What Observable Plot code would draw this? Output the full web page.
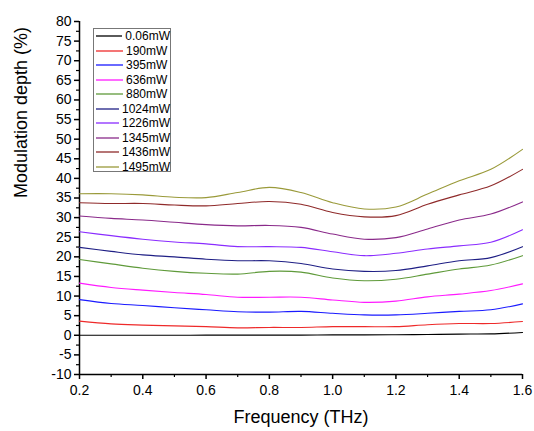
<!DOCTYPE html>
<html>
<head>
<meta charset="utf-8">
<script src="https://cdn.jsdelivr.net/npm/d3@7"></script>
<script src="https://cdn.jsdelivr.net/npm/@observablehq/plot@0.6"></script>
<style>
  html, body { margin: 0; padding: 0; background: #fff; }
  #wrap { position: relative; width: 534px; height: 431px; font-family: "Liberation Sans", Arial, sans-serif; }
  #legend { position: absolute; left: 93px; top: 28px; width: 78px; height: 144px; border: 1px solid #777; background: #fff; box-sizing: border-box; padding-top: 0px; }
  .row { display: flex; align-items: center; height: 14.5px; font-size: 12px; color: #000; }
  .row svg { margin-left: 2px; margin-right: 3px; }
</style>
</head>
<body>
<div id="wrap"></div>
<script>
const freqs = [0.2, 0.3, 0.4, 0.5, 0.6, 0.7, 0.8, 0.9, 1.0, 1.1, 1.2, 1.3, 1.4, 1.5, 1.6];
const seriesNames = ["0.06mW", "190mW", "395mW", "636mW", "880mW", "1024mW", "1226mW", "1345mW", "1436mW", "1495mW"];
const seriesColors = ["#000000", "#ee2a2a", "#1a1aff", "#ff1aff", "#5f9a3a", "#1f1f85", "#8a2cff", "#8a2a8a", "#8f2a2a", "#9a9a3a"];
const s006  = [0, 0, 0, 0, 0.05, 0.05, 0.05, 0.05, 0.1, 0.1, 0.15, 0.2, 0.3, 0.35, 0.7];
const s190  = [3.6, 2.9, 2.6, 2.4, 2.2, 1.9, 2.0, 2.0, 2.2, 2.2, 2.2, 2.7, 3.0, 3.0, 3.5];
const s395  = [9.1, 8.1, 7.6, 7.0, 6.5, 6.0, 5.9, 6.1, 5.6, 5.2, 5.2, 5.6, 6.1, 6.5, 8.0];
const s636  = [13.3, 12.2, 11.5, 10.9, 10.4, 9.7, 9.7, 9.7, 9.0, 8.4, 8.7, 9.8, 10.5, 11.4, 13.1];
const s880  = [19.3, 18.2, 17.1, 16.3, 15.8, 15.6, 16.3, 16.1, 14.6, 13.9, 14.3, 15.6, 16.9, 17.9, 20.3];
const s1024 = [22.4, 21.4, 20.5, 20.0, 19.4, 19.0, 19.0, 18.3, 16.9, 16.3, 16.5, 17.7, 19.0, 19.8, 22.6];
const s1226 = [26.4, 25.4, 24.5, 23.8, 23.3, 22.6, 22.6, 22.4, 21.3, 20.3, 20.9, 22.0, 22.8, 23.7, 26.9];
const s1345 = [30.4, 29.8, 29.4, 28.8, 28.2, 27.9, 28.0, 27.5, 25.8, 24.5, 24.9, 27.1, 29.4, 30.9, 34.0];
const s1436 = [33.8, 33.6, 33.6, 33.2, 33.0, 33.6, 34.1, 33.4, 31.3, 30.2, 30.5, 33.4, 35.8, 38.1, 42.3];
const s1495 = [36.1, 36.1, 35.8, 35.2, 35.1, 36.4, 37.7, 36.4, 33.8, 32.2, 32.7, 36.0, 39.4, 42.3, 47.4];
const xTicks = [0.2, 0.4, 0.6, 0.8, 1.0, 1.2, 1.4, 1.6];
const xMinorTicks = [0.3, 0.5, 0.7, 0.9, 1.1, 1.3, 1.5];
const yTicks = [-10, -5, 0, 5, 10, 15, 20, 25, 30, 35, 40, 45, 50, 55, 60, 65, 70, 75, 80];
const yMinorTicks = [-7.5, -2.5, 2.5, 7.5, 12.5, 17.5, 22.5, 27.5, 32.5, 37.5, 42.5, 47.5, 52.5, 57.5, 62.5, 67.5, 72.5, 77.5];

const allSeries = [s006, s190, s395, s636, s880, s1024, s1226, s1345, s1436, s1495];
const rows = [];
allSeries.forEach((vals, i) => vals.forEach((v, j) => rows.push({f: freqs[j], v, s: seriesNames[i]})));

const chart = Plot.plot({
  width: 534,
  height: 431,
  marginLeft: 79,
  marginRight: 12,
  marginTop: 21,
  marginBottom: 57,
  style: {fontFamily: "'Liberation Sans', Arial, sans-serif", fontSize: "14px", color: "#000", background: "#fff"},
  x: {domain: [0.2, 1.6]},
  y: {domain: [-10, 80]},
  color: {domain: seriesNames, range: seriesColors},
  marks: [
    Plot.axisY(yTicks, {tickSize: 5, tickPadding: 3, tickFormat: d => String(d), fontSize: 14, label: null, stroke: "#000", strokeWidth: 1.5}),
    Plot.axisY(yMinorTicks, {tickSize: 3, tickFormat: () => "", label: null, stroke: "#000", strokeWidth: 1.2}),
    Plot.axisX(xTicks, {tickSize: 5, tickPadding: 6, tickFormat: d => d.toFixed(1), fontSize: 14, label: null, stroke: "#000", strokeWidth: 1.5}),
    Plot.axisX(xMinorTicks, {tickSize: 3, tickFormat: () => "", label: null, stroke: "#000", strokeWidth: 1.2}),
    Plot.ruleX([0.2], {stroke: "#000", strokeWidth: 1.5}),
    Plot.ruleY([-10], {stroke: "#000", strokeWidth: 1.5}),
    Plot.line(rows, {x: "f", y: "v", z: "s", stroke: "s", strokeWidth: 1.1, curve: "catmull-rom"}),
    Plot.text(["Frequency (THz)"], {frameAnchor: "bottom", dy: 48, fontSize: 18, fill: "#000"}),
    Plot.text(["Modulation depth (%)"], {frameAnchor: "left", dx: -58, rotate: -90, fontSize: 18, fill: "#000"})
  ]
});

const wrap = document.getElementById("wrap");
wrap.appendChild(chart);

const legend = document.createElement("div");
legend.id = "legend";
seriesNames.forEach((name, i) => {
  const row = document.createElement("div");
  row.className = "row";
  row.innerHTML = `<svg width="27" height="4"><line x1="0" y1="2" x2="27" y2="2" stroke="${seriesColors[i]}" stroke-width="1.3"/></svg><span>${name}</span>`;
  legend.appendChild(row);
});
wrap.appendChild(legend);
</script>
</body>
</html>
